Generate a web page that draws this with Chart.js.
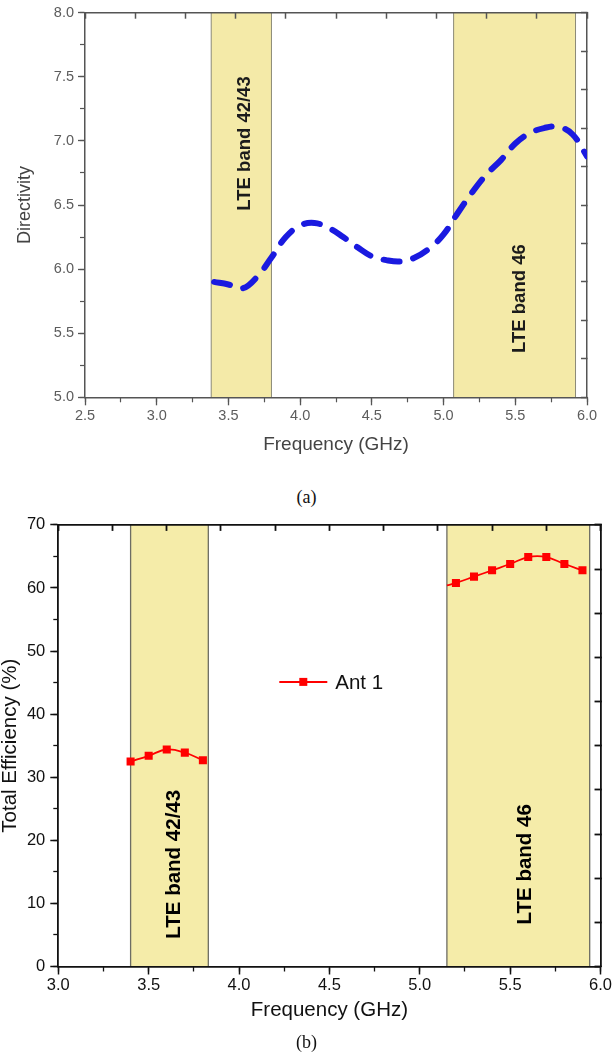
<!DOCTYPE html>
<html>
<head>
<meta charset="utf-8">
<script src="https://cdn.jsdelivr.net/npm/chart.js@4.4.1/dist/chart.umd.min.js"></script>
<style>
  body { margin: 0; background: #fff; width: 613px; height: 1056px; position: relative; overflow: hidden; }
  .box { position: absolute; left: 0; width: 613px; }
  .cap { position: absolute; left: 0; width: 613px; text-align: center; font: 18px "Liberation Serif", "Times New Roman", serif; line-height: 20px; color: #111; }
</style>
</head>
<body>
<div class="box" style="top:0;height:470px"><canvas id="directivity" width="613" height="470"></canvas></div>
<div class="cap" style="top:487px">(a)</div>
<div class="box" style="top:510px;height:525px"><canvas id="efficiency" width="613" height="525"></canvas></div>
<div class="cap" style="top:1032px">(b)</div>
<script>
// (a) directivity
const freqA = [3.4, 3.5, 3.6, 3.7, 3.8, 3.9, 4.0, 4.1, 4.2, 4.3, 4.4, 4.5, 4.6, 4.7,
    4.8, 4.9, 5.0, 5.1, 5.2, 5.3, 5.4, 5.5, 5.6, 5.7, 5.8, 5.9, 6.0];
const directivity = [5.90, 5.88, 5.85, 5.94, 6.09, 6.25, 6.34, 6.36, 6.32, 6.25, 6.17, 6.10, 6.07, 6.06,
    6.09, 6.16, 6.27, 6.44, 6.60, 6.74, 6.85, 6.98, 7.06, 7.10, 7.11, 7.05, 6.88];
const xTicksA = [2.5, 3.0, 3.5, 4.0, 4.5, 5.0, 5.5, 6.0];
const yTicksA = [5.0, 5.5, 6.0, 6.5, 7.0, 7.5, 8.0];
const bandStartA = [3.38, 5.07];
const bandEndA = [3.80, 5.92];

// (b) total efficiency
const freqB1 = [3.4, 3.5, 3.6, 3.7, 3.8];
const effB1 = [32.5, 33.4, 34.4, 33.9, 32.7];
const freqB2 = [5.15, 5.2, 5.3, 5.4, 5.5, 5.6, 5.7, 5.8, 5.9];
const effB2 = [60.4, 60.8, 61.8, 62.8, 63.8, 64.9, 64.9, 63.8, 62.8];
const xTicksB = [3.0, 3.5, 4.0, 4.5, 5.0, 5.5, 6.0];
const yTicksB = [0, 10, 20, 30, 40, 50, 60, 70];
const bandStartB = [3.40, 5.15];
const bandEndB = [3.83, 5.94];

const bandNames = ['LTE band 42/43', 'LTE band 46'];
const seriesName = 'Ant 1';

const SANS = '"Liberation Sans", Arial, sans-serif';

const bandPlugin = {
    id: 'bands',
    beforeDraw(chart, args, opts) {
        const {ctx, chartArea: a, scales: {x, y}} = chart;
        ctx.save();
        opts.starts.forEach((s, i) => {
            const x0 = x.getPixelForValue(s);
            const x1 = x.getPixelForValue(opts.ends[i]);
            ctx.fillStyle = opts.fill;
            ctx.fillRect(x0, a.top, x1 - x0, a.bottom - a.top);
            ctx.strokeStyle = opts.stroke;
            ctx.lineWidth = opts.strokeWidth;
            ctx.beginPath();
            ctx.moveTo(x0, a.top); ctx.lineTo(x0, a.bottom);
            ctx.moveTo(x1, a.top); ctx.lineTo(x1, a.bottom);
            ctx.stroke();
            ctx.save();
            ctx.translate(x.getPixelForValue(opts.labelX[i]), y.getPixelForValue(opts.labelY[i]));
            ctx.rotate(-Math.PI / 2);
            ctx.font = opts.font;
            ctx.fillStyle = opts.color;
            ctx.textAlign = 'center';
            ctx.textBaseline = 'middle';
            ctx.fillText(opts.labels[i], 0, 0);
            ctx.restore();
        });
        ctx.restore();
    }
};

// legend drawn inside the plot, like the original
const insideLegend = {
    id: 'insideLegend',
    afterDatasetsDraw(chart, args, opts) {
        if (!opts.display) return;
        const {ctx, chartArea: a} = chart;
        const lx = a.left + opts.left, ly = a.top + opts.top;
        ctx.save();
        ctx.strokeStyle = opts.color;
        ctx.lineWidth = 2;
        ctx.beginPath();
        ctx.moveTo(lx, ly); ctx.lineTo(lx + 48, ly);
        ctx.stroke();
        ctx.fillStyle = opts.color;
        ctx.fillRect(lx + 20, ly - 4, 8, 8);
        ctx.fillStyle = '#111';
        ctx.font = '20.5px ' + SANS;
        ctx.textBaseline = 'middle';
        ctx.fillText(opts.text, lx + 56, ly + 1);
        ctx.restore();
    }
};

function fixedTicks(list) {
    return s => { s.ticks = list.map(v => ({value: v})); };
}

function minorAxis(position, min, max, step, len, color, width) {
    return {
        type: 'linear', position: position, min: min, max: max, weight: 0,
        ticks: {display: false, stepSize: step},
        grid: {drawOnChartArea: false, tickLength: len, tickColor: color, tickWidth: width},
        border: {display: false},
        afterFit: s => { if (s.isHorizontal()) s.height = 0; else s.width = 0; }
    };
}

function frameAxis(position, len, color, width) {
    return {
        type: 'linear', position: position, min: 0, max: 10, weight: 0,
        ticks: {display: false, stepSize: 1},
        grid: {drawOnChartArea: false, tickLength: len, tickColor: color, tickWidth: width},
        border: {display: true, color: color, width: width},
        afterFit: s => { if (s.isHorizontal()) s.height = 0; else s.width = 0; }
    };
}

// ---------- chart (a) ----------
const colA = '#555';
const configDirectivity = {
    type: 'line',
    data: {
        datasets: [{
            label: 'Directivity',
            data: freqA.map((f, i) => ({x: f, y: directivity[i]})),
            borderColor: '#1a1ae0',
            borderWidth: 6,
            borderDash: [16, 14],
            borderCapStyle: 'round',
            pointRadius: 0,
            tension: 0.4,
            fill: false
        }]
    },
    options: {
        responsive: false,
        animation: false,
        layout: {padding: {top: 12.3, right: 26, left: 0, bottom: 0}, autoPadding: false},
        plugins: {
            legend: {display: false},
            tooltip: {enabled: false},
            bands: {
                starts: bandStartA, ends: bandEndA, labels: bandNames,
                labelX: [3.615, 5.53], labelY: [6.98, 5.77],
                fill: '#f4eaa8', stroke: '#8c8a78', strokeWidth: 1,
                font: 'bold 18.5px ' + SANS, color: '#1b1b1b'
            },
            insideLegend: {display: false}
        },
        scales: {
            x: {
                type: 'linear', position: 'bottom', min: 2.5, max: 6.0, weight: 1,
                afterBuildTicks: fixedTicks(xTicksA),
                ticks: {autoSkip: false, maxRotation: 0, padding: 2, color: '#5c5c5c',
                    font: {family: SANS, size: 14.5}, callback: v => v.toFixed(1)},
                grid: {drawOnChartArea: false, tickLength: 8, tickColor: colA, tickWidth: 1.3},
                border: {color: colA, width: 1.5},
                title: {display: true, text: 'Frequency (GHz)', color: '#444',
                    font: {family: SANS, size: 19}, padding: {top: 0, bottom: 13.6}},
                afterFit: s => { s.height = 72.7; }
            },
            xMinor: minorAxis('bottom', 2.5, 6.0, 0.25, 5, colA, 1.2),
            x2: frameAxis('top', -6, colA, 1.5),
            y: {
                type: 'linear', position: 'left', min: 5.0, max: 8.0, weight: 1,
                afterBuildTicks: fixedTicks(yTicksA),
                ticks: {autoSkip: false, padding: 4, color: '#5c5c5c',
                    font: {family: SANS, size: 14.5}, callback: v => v.toFixed(1)},
                grid: {drawOnChartArea: false, tickLength: 7, tickColor: colA, tickWidth: 1.3},
                border: {color: colA, width: 1.5},
                title: {display: true, text: 'Directivity', color: '#444',
                    font: {family: SANS, size: 18}, padding: {top: 14.2, bottom: 0}},
                afterFit: s => { s.width = 85; }
            },
            yMinor: minorAxis('left', 5.0, 8.0, 0.25, 5, colA, 1.2),
            y2: frameAxis('right', -6, colA, 1.5)
        }
    },
    plugins: [bandPlugin, insideLegend]
};

// ---------- chart (b) ----------
const colB = '#111';
const pointSize = c => (c.datasetIndex === 1 && c.dataIndex === 0) ? 0 : 5.7;
const redLine = {
    borderColor: '#ff0000',
    backgroundColor: '#ff0000',
    borderWidth: 1.8,
    pointStyle: 'rect',
    pointRadius: pointSize,
    pointBorderWidth: 0,
    tension: 0.4,
    fill: false
};
const configEfficiency = {
    type: 'line',
    data: {
        datasets: [
            Object.assign({label: seriesName, data: freqB1.map((f, i) => ({x: f, y: effB1[i]}))}, redLine),
            Object.assign({label: seriesName, data: freqB2.map((f, i) => ({x: f, y: effB2[i]}))}, redLine)
        ]
    },
    options: {
        responsive: false,
        animation: false,
        layout: {padding: {top: 14, right: 7.5, left: 0, bottom: 0}, autoPadding: false},
        plugins: {
            legend: {display: false},
            tooltip: {enabled: false},
            bands: {
                starts: bandStartB, ends: bandEndB, labels: bandNames,
                labelX: [3.64, 5.585], labelY: [16.2, 16.2],
                fill: '#f5eca9', stroke: '#6d6d64', strokeWidth: 1.3,
                font: 'bold 20.5px ' + SANS, color: '#000'
            },
            insideLegend: {display: true, text: seriesName, color: '#ff0000', left: 221, top: 157}
        },
        scales: {
            x: {
                type: 'linear', position: 'bottom', min: 3.0, max: 6.0, weight: 1,
                afterBuildTicks: fixedTicks(xTicksB),
                ticks: {autoSkip: false, maxRotation: 0, padding: 1, color: colB,
                    font: {family: SANS, size: 16.5}, callback: v => v.toFixed(1)},
                grid: {drawOnChartArea: false, tickLength: 8, tickColor: colB, tickWidth: 1.5},
                border: {color: colB, width: 1.8},
                title: {display: true, text: 'Frequency (GHz)', color: colB,
                    font: {family: SANS, size: 20.5}, padding: {top: 0, bottom: 12.7}},
                afterFit: s => { s.height = 68.5; }
            },
            xMinor: minorAxis('bottom', 3.0, 6.0, 0.25, 5, colB, 1.3),
            x2: frameAxis('top', -6, colB, 1.8),
            y: {
                type: 'linear', position: 'left', min: 0, max: 70, weight: 1,
                afterBuildTicks: fixedTicks(yTicksB),
                ticks: {autoSkip: false, padding: 5, color: colB,
                    font: {family: SANS, size: 16.5}},
                grid: {drawOnChartArea: false, tickLength: 8, tickColor: colB, tickWidth: 1.5},
                border: {color: colB, width: 1.8},
                title: {display: true, text: 'Total Efficiency (%)', color: colB,
                    font: {family: SANS, size: 20.5, lineHeight: 1}, padding: {top: 0, bottom: 0}},
                afterFit: s => { s.width = 58.3; }
            },
            yMinor: minorAxis('left', 0, 70, 5, 5, colB, 1.3),
            y2: frameAxis('right', -6, colB, 1.8)
        }
    },
    plugins: [bandPlugin, insideLegend]
};

const directivityChart = new Chart(document.getElementById('directivity'), configDirectivity);
const efficiencyChart = new Chart(document.getElementById('efficiency'), configEfficiency);
</script>
</body>
</html>
